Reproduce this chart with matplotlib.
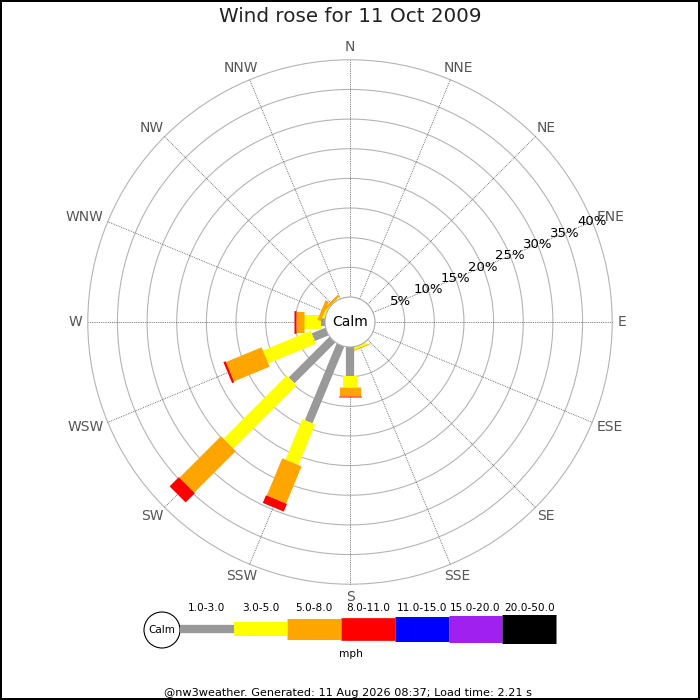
import numpy as np
import matplotlib
matplotlib.use("Agg")
import matplotlib.pyplot as plt
from matplotlib.patches import Circle
from matplotlib.transforms import offset_copy

# ── data (percent of observations per direction and speed bin) ──────────────
directions = ["N", "NNE", "NE", "ENE", "E", "ESE", "SE", "SSE",
              "S", "SSW", "SW", "WSW", "W", "WNW", "NW", "NNW"]
speed_bins = ["1.0-3.0", "3.0-5.0", "5.0-8.0", "8.0-11.0",
              "11.0-15.0", "15.0-20.0", "20.0-50.0"]
bin_colors = ["#999999", "#ffff00", "#ffa500", "#ff0000",
              "#0000ff", "#a020f0", "#000000"]

pct_1_3 = [0, 0, 0, 0, 0, 0, 0, 0, 4.9, 14.0, 9.7, 2.5, 0.6, 0, 0, 0]
pct_3_5 = [0, 0, 0, 0, 0, 0, 0, 0.4, 1.8, 7.4, 15.1, 8.7, 3.0, 0.4, 0.1, 0]
pct_5_8 = [0, 0, 0, 0, 0, 0, 0, 0.15, 1.5, 6.8, 9.9, 6.5, 1.3, 0.6, 0.4, 0]
pct_8_11 = [0, 0, 0, 0, 0, 0, 0, 0, 0.2, 1.4, 2.2, 0.4, 0.3, 0, 0, 0]
pct_11_15 = [0] * 16
pct_15_20 = [0] * 16
pct_20_50 = [0] * 16
bins = [pct_1_3, pct_3_5, pct_5_8, pct_8_11, pct_11_15, pct_15_20, pct_20_50]

ring_pcts = [5, 10, 15, 20, 25, 30, 35, 40]
title = "Wind rose for 11 Oct 2009"
footer = "@nw3weather. Generated: 11 Aug 2026 08:37; Load time: 2.21 s"

# ── geometry / style ─────────────────────────────────────────────────────────
PX = 5.93                      # pixels per percent
CALM = 25 / PX                 # calm circle radius in percent units
bar_px = [8.3, 14, 21, 22.7, 25, 27, 29]
bar_lw = [w * 0.72 for w in bar_px]

fig = plt.figure(figsize=(7, 7), dpi=100)
fig.patch.set_edgecolor("black")
fig.patch.set_linewidth(1.5)

half = 300 / PX
ax = fig.add_axes([50 / 700, 78 / 700, 600 / 700, 600 / 700])
ax.set_xlim(-half, half); ax.set_ylim(-half, half)
ax.set_aspect("equal"); ax.axis("off")

ang = np.deg2rad(np.arange(16) * 22.5)   # compass angles, clockwise from N
outer = CALM + ring_pcts[-1]

for p in ring_pcts:
    ax.add_patch(Circle((0, 0), CALM + p, fill=False, ec="#b4b4b4", lw=0.8, zorder=1))
for a in ang:
    ax.plot([CALM * np.sin(a), outer * np.sin(a)], [CALM * np.cos(a), outer * np.cos(a)],
            color="#555555", lw=0.6, ls=(0, (1, 1.2)), zorder=1)

# stacked bars: each speed bin a thick butt-capped segment
for i, a in enumerate(ang):
    r0 = CALM
    for b, vals in enumerate(bins):
        v = vals[i]
        if v <= 0:
            continue
        r1 = r0 + v
        ax.plot([r0 * np.sin(a), r1 * np.sin(a)], [r0 * np.cos(a), r1 * np.cos(a)],
                color=bin_colors[b], lw=bar_lw[b], solid_capstyle="butt", zorder=3)
        r0 = r1

ax.add_patch(Circle((0, 0), CALM, fc="white", ec="#aaaaaa", lw=0.8, zorder=4))
ax.text(0, 0, "Calm", ha="center", va="center", fontsize=10, zorder=5)

# percent labels along the ENE spoke
lab_a = np.deg2rad(67.5)
for p in ring_pcts:
    ax.text((CALM + p) * np.sin(lab_a), (CALM + p) * np.cos(lab_a), f"{p}%",
            ha="center", va="center", fontsize=9.5, zorder=5)

# compass labels, pushed outward by half their extent
lab_r = 268 / PX
texts = []
for d, a in zip(directions, ang):
    t = ax.text(lab_r * np.sin(a), lab_r * np.cos(a), d, ha="center", va="center",
                fontsize=10, color="#555555")
    texts.append((t, a))
fig.canvas.draw()
rend = fig.canvas.get_renderer()
for t, a in texts:
    bb = t.get_window_extent(rend)
    t.set_transform(offset_copy(ax.transData, fig=fig, units="dots",
                                x=np.sin(a) * bb.width / 2, y=np.cos(a) * bb.height / 2))

fig.text(0.5, 1 - 17 / 700, title, ha="center", va="center", fontsize=14.3, color="#222222")

# ── legend (pixel coordinates overlay) ──────────────────────────────────────
lg = fig.add_axes([0, 0, 1, 1], facecolor="none")
lg.set_xlim(0, 700); lg.set_ylim(700, 0); lg.axis("off")
lg.add_patch(Circle((162, 630), 18, fc="white", ec="black", lw=0.8))
lg.text(162, 630, "Calm", ha="center", va="center", fontsize=7.5)
seg_w = (556 - 180) / len(speed_bins)
for b, (lab, col) in enumerate(zip(speed_bins, bin_colors)):
    x0 = 180 + b * seg_w
    lg.plot([x0, x0 + seg_w], [629, 629], color=col, lw=bar_lw[b], solid_capstyle="butt")
    lg.text(x0 + seg_w / 2, 608, lab, ha="center", va="center", fontsize=7.6)
lg.text(351, 654, "mph", ha="center", va="center", fontsize=7.6)
lg.text(348, 693, footer, ha="center", va="center", fontsize=8.1)

fig.savefig("out.png", dpi=100, edgecolor=fig.get_edgecolor())
